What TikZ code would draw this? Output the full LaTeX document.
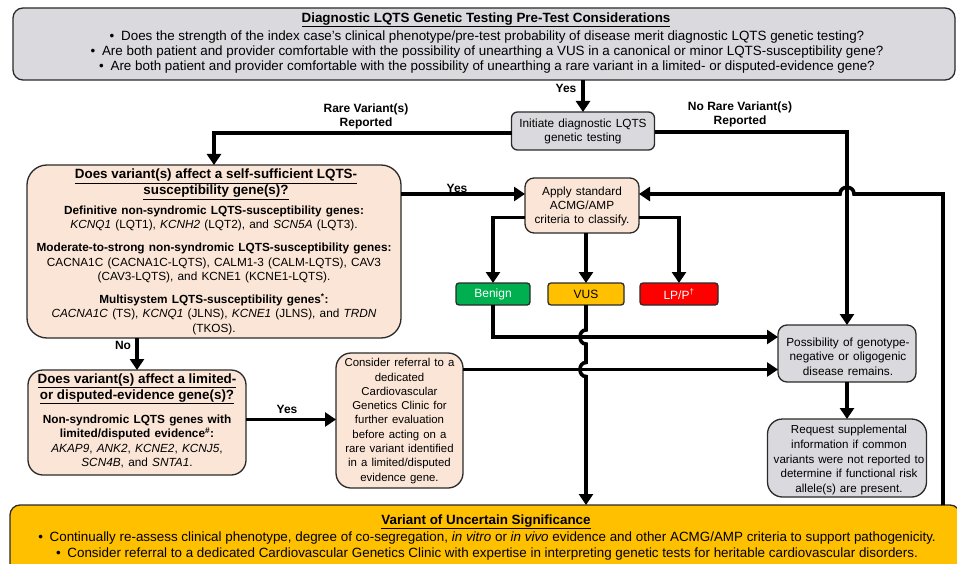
\documentclass[tikz,border=0pt]{standalone}
\usepackage{fontspec}
\setmainfont{Liberation Sans}
\usetikzlibrary{arrows.meta,calc}
\definecolor{boxgray}{HTML}{D9D9DE}
\definecolor{peach}{HTML}{FBE5D6}
\definecolor{bgreen}{HTML}{00B050}
\definecolor{amber}{HTML}{FFC000}
\definecolor{lpred}{HTML}{FF0000}
\definecolor{edge}{HTML}{2A2A2A}
\newcommand{\widespace}[1]{\spaceskip=#1em plus 0.1em\relax}
\begin{document}
\begin{tikzpicture}[x=1pt,y=-1pt,
  every node/.style={inner sep=0pt,outer sep=0pt},
  shapebox/.style={draw=edge,line width=1.3pt},
  graybox/.style={shapebox,fill=boxgray},
  peachbox/.style={shapebox,fill=peach},
  txt/.style={align=center,font=\fontsize{11.8}{14.3}\selectfont\widespace{0.36}},
  constyle/.style={align=center,font=\fontsize{11.4}{14.3}\selectfont\widespace{0.36}},
  smalltxt/.style={align=center,font=\fontsize{11.6}{14.7}\selectfont\widespace{0.34}},
  tagtxt/.style={align=center,font=\fontsize{12}{14}\selectfont},
  bigtxt/.style={align=center,font=\fontsize{13.4}{15}\selectfont},
  ttl/.style={align=center,font=\bfseries\fontsize{13.4}{16}\selectfont},
  lbl/.style={align=center,font=\bfseries\fontsize{12}{14}\selectfont},
  conn/.style={line width=3.6pt,-{Triangle[length=11pt,width=14pt]}}
]
\useasboundingbox (0,0) rectangle (957,564);

% ---------- boxes ----------
\node[graybox,rounded corners=10pt,minimum width=942pt,minimum height=72pt] (top) at (484,44) {};
\node[ttl] (toptitle) at (486,20) {\underline{Diagnostic LQTS Genetic Testing Pre-Test Considerations}};
\node[bigtxt] (toplines) at (487,52) {%
  \textbullet\enspace Does the strength of the index case's clinical phenotype/pre-test probability of disease merit diagnostic LQTS genetic testing?\\
  \textbullet\enspace Are both patient and provider comfortable with the possibility of unearthing a VUS in a canonical or minor LQTS-susceptibility gene?\\
  \textbullet\enspace Are both patient and provider comfortable with the possibility of unearthing a rare variant in a limited- or disputed-evidence gene?};

\node[graybox,rounded corners=6pt,minimum width=143pt,minimum height=38pt] (init) at (583,131) {};
\node[txt] (inittxt) at (583,131.5) {Initiate diagnostic LQTS\\genetic testing};

\node[peachbox,rounded corners=20pt,minimum width=374pt,minimum height=173pt] (box1) at (214,251.5) {};
\node[ttl] (b1title) at (216,184.5) {\underline{Does variant(s) affect a self-sufficient LQTS-}\\\underline{susceptibility gene(s)?}};
\node[txt] (b1p1) at (214,218.5) {\textbf{Definitive non-syndromic LQTS-susceptibility genes:}\\\textit{KCNQ1} (LQT1), \textit{KCNH2} (LQT2), and \textit{SCN5A} (LQT3).};
\node[txt] (b1p2) at (214,263) {\textbf{Moderate-to-strong non-syndromic LQTS-susceptibility genes:}\\CACNA1C (CACNA1C-LQTS), CALM1-3 (CALM-LQTS), CAV3\\(CAV3-LQTS), and KCNE1 (KCNE1-LQTS).};
\node[txt] (b1p3) at (214,314) {\textbf{Multisystem LQTS-susceptibility genes\textsuperscript{*}:}\\\textit{CACNA1C} (TS), \textit{KCNQ1} (JLNS), \textit{KCNE1} (JLNS), and \textit{TRDN}\\(TKOS).};

\node[peachbox,rounded corners=9pt,minimum width=114pt,minimum height=55pt] (apply) at (582,205.5) {};
\node[txt] (applytxt) at (582,206.5) {Apply standard\\ACMG/AMP\\criteria to classify.};

\node[shapebox,fill=bgreen,rounded corners=3pt,minimum width=74pt,minimum height=22pt] (benign) at (493,294) {};
\node[tagtxt,text=white] (benigntxt) at (493,294) {Benign};
\node[shapebox,fill=amber,rounded corners=3pt,minimum width=76pt,minimum height=22pt] (vus) at (586,294) {};
\node[tagtxt] (vustxt) at (586,294) {VUS};
\node[shapebox,fill=lpred,rounded corners=3pt,minimum width=78pt,minimum height=22pt] (lpp) at (679,294) {};
\node[tagtxt,text=white] (lpptxt) at (679,294) {LP/P\textsuperscript{\dag}};

\node[graybox,rounded corners=9pt,minimum width=138pt,minimum height=57pt] (poss) at (847,353.5) {};
\node[txt] (posstxt) at (848,356.5) {Possibility of genotype-\\negative or oligogenic\\disease remains.};

\node[graybox,rounded corners=15pt,minimum width=159pt,minimum height=78pt] (req) at (847,458) {};
\node[smalltxt] (reqtxt) at (849,460) {Request supplemental\\information if common\\variants were not reported to\\determine if functional risk\\allele(s) are present.};

\node[peachbox,rounded corners=15pt,minimum width=218pt,minimum height=105pt] (box2) at (137,422.5) {};
\node[ttl] (b2title) at (137,389) {\underline{Does variant(s) affect a limited-}\\\underline{or disputed-evidence gene(s)?}};
\node[txt] (b2txt) at (137,441.5) {\textbf{Non-syndromic LQTS genes with}\\\textbf{limited/disputed evidence\textsuperscript{\#}:}\\\textit{AKAP9}, \textit{ANK2}, \textit{KCNE2}, \textit{KCNJ5},\\\textit{SCN4B}, and \textit{SNTA1}.};

\node[peachbox,rounded corners=15pt,minimum width=127pt,minimum height=135pt] (cons) at (399.5,420.5) {};
\node[constyle] (constxt) at (399.5,421) {Consider referral to a\\dedicated\\Cardiovascular\\Genetics Clinic for\\further evaluation\\before acting on a\\rare variant identified\\in a limited/disputed\\evidence gene.};

\node[shapebox,fill=amber,rounded corners=10pt,minimum width=950pt,minimum height=75pt] (banner) at (485,542.5) {};
\node[ttl] (bantitle) at (486,522) {\underline{Variant of Uncertain Significance}};
\node[bigtxt,font=\fontsize{13.4}{16}\selectfont] (banlines) at (487,546) {%
  \textbullet\enspace Continually re-assess clinical phenotype, degree of co-segregation, \textit{in vitro} or \textit{in vivo} evidence and other ACMG/AMP criteria to support pathogenicity.\\
  \textbullet\enspace Consider referral to a dedicated Cardiovascular Genetics Clinic with expertise in interpreting genetic tests for heritable cardiovascular disorders.};

% ---------- labels ----------
\node[lbl] (lyes1) at (566,88) {Yes};
\node[lbl] (lrare) at (366,116) {Rare Variant(s)\\Reported};
\node[lbl] (lnorare) at (740,114) {No Rare Variant(s)\\Reported};
\node[lbl] (lyes2) at (457,188) {Yes};
\node[lbl] (lno) at (123,345) {No};
\node[lbl] (lyes3) at (287,409) {Yes};

% ---------- connectors ----------
\coordinate (fbx) at (943,194);
\draw[conn] (init.north |- top.south) -- (init.north);
\draw[conn] ([yshift=-2pt]init.west) -| (box1.north);
\draw[conn] ([yshift=-1pt]init.east) -| (poss.north);
\draw[conn] ([yshift=57.5pt]box1.east) -- ([yshift=11.5pt]apply.west);
\draw[conn] (fbx |- banner.north) -- (fbx) -- (854,194) .. controls (854,185) and (840,185) .. (840,194) -- ([yshift=11.5pt]apply.east);
\draw[conn] ([yshift=-12pt]apply.west) -| (benign.north);
\draw[conn] ([yshift=-12pt]apply.east) -| (lpp.north);
\draw[conn] (vus.north |- apply.south) -- (vus.north);
\draw[conn] (benign.south) |- ([yshift=16.5pt]poss.west);
\draw[conn] ([yshift=51pt]cons.east) -- ([yshift=-16pt]poss.west);
\draw[conn] (vus.south) -- (586,330) .. controls (578,330) and (578,344) .. (586,344) -- (586,362.5) .. controls (578,362.5) and (578,376.5) .. (586,376.5) -- (vus.south |- banner.north);
\draw[conn] (box2.north |- box1.south) -- (box2.north);
\draw[conn] ([yshift=3pt]box2.east) -- ([yshift=3pt]box2.east -| cons.west);
\draw[conn] (poss.south) -- (req.north);
\end{tikzpicture}
\end{document}
